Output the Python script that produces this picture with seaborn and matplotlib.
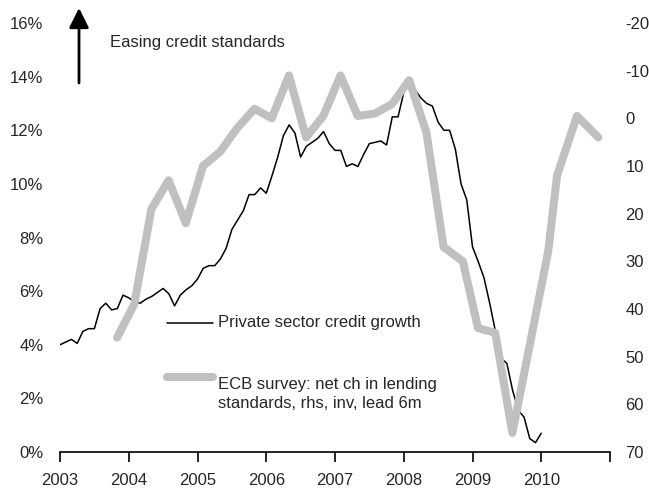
import numpy as np
import pandas as pd
import matplotlib
matplotlib.use("Agg")
import matplotlib.pyplot as plt
import seaborn as sns
from matplotlib.lines import Line2D

# Private sector credit growth, % y/y, monthly from Jan 2003
credit_start_year = 2003
credit_growth = [
    4.0, 4.1, 4.2, 4.05, 4.5, 4.6, 4.6, 5.35, 5.55, 5.3, 5.35, 5.85,      # 2003
    5.75, 5.6, 5.55, 5.7, 5.8, 5.95, 6.1, 5.9, 5.45, 5.85, 6.05, 6.2,     # 2004
    6.45, 6.85, 6.95, 6.95, 7.2, 7.6, 8.3, 8.65, 9.0, 9.6, 9.6, 9.85,     # 2005
    9.65, 10.3, 11.0, 11.8, 12.2, 11.9, 11.0, 11.4, 11.55, 11.7, 11.95, 11.5,  # 2006
    11.25, 11.25, 10.65, 10.75, 10.65, 11.1, 11.5, 11.55, 11.6, 11.45, 12.5, 12.5,  # 2007
    13.4, 13.9, 13.5, 13.2, 13.0, 12.9, 12.3, 12.0, 12.0, 11.3, 10.0, 9.4,  # 2008
    7.65, 7.1, 6.5, 5.55, 4.5, 3.5, 3.3, 2.3, 1.55, 1.3, 0.5, 0.35,       # 2009
    0.7,                                                                   # 2010
]

# ECB bank lending survey: net change in credit standards, led 6 months
survey_dates = [
    2003.83, 2004.08, 2004.33, 2004.58, 2004.83, 2005.08, 2005.33, 2005.58,
    2005.83, 2006.08, 2006.33, 2006.58, 2006.83, 2007.08, 2007.33, 2007.58,
    2007.83, 2008.08, 2008.33, 2008.58, 2008.86, 2009.08, 2009.33, 2009.58,
    2010.10, 2010.23, 2010.52, 2010.83,
]
survey_net = [
    46, 39, 19, 13, 22, 10, 7, 2,
    -2, 0, -9, 4, -0.5, -9, -0.5, -1,
    -3, -8, 3, 27, 30, 44, 45, 66,
    28, 12, -0.5, 4,
]

year_ticks = list(range(2003, 2012))
year_labels = [str(y) for y in range(2003, 2011)] + [""]
left_ticks = [0, 2, 4, 6, 8, 10, 12, 14, 16]
right_ticks = [-20, -10, 0, 10, 20, 30, 40, 50, 60, 70]

credit_label = "Private sector credit growth"
survey_label = "ECB survey: net ch in lending\nstandards, rhs, inv, lead 6m"
arrow_label = "Easing credit standards"

sns.set_style("white")
plt.rcParams["font.family"] = ["Liberation Sans", "DejaVu Sans"]
plt.rcParams["font.size"] = 12

W, H = 649, 493
fig = plt.figure(figsize=(W / 100, H / 100), dpi=100)
ax = fig.add_axes([60 / W, 41 / H, 550 / W, 429 / H])
ax2 = ax.twinx()

credit = pd.DataFrame({
    "date": credit_start_year + np.arange(len(credit_growth)) / 12.0,
    "growth": credit_growth,
})
survey = pd.DataFrame({"date": survey_dates, "net": survey_net})

grey = "#C0C0C0"
sns.lineplot(data=credit, x="date", y="growth", ax=ax, color="black",
             linewidth=1.1, sort=False)
sns.lineplot(data=survey, x="date", y="net", ax=ax2, color=grey,
             linewidth=5.8, sort=False, solid_capstyle="round",
             solid_joinstyle="round")

# Left axis: credit growth
ax.set_xlim(2003, 2011)
ax.set_ylim(0, 16)
ax.set_xticks(year_ticks)
ax.set_xticklabels(year_labels)
ax.set_yticks(left_ticks)
ax.set_yticklabels([f"{t}%" for t in left_ticks])
ax.set_xlabel("")
ax.set_ylabel("")
ax.tick_params(axis="x", bottom=True, direction="out", length=7, width=1.2,
               color="black", pad=8, labelsize=12)
ax.tick_params(axis="y", left=False, length=0, pad=12, labelsize=12)
for side in ["top", "left", "right"]:
    ax.spines[side].set_visible(False)
ax.spines["bottom"].set_color("black")
ax.spines["bottom"].set_linewidth(1.2)

# Right axis: survey balance, inverted
ax2.set_ylim(70, -20)
ax2.set_yticks(right_ticks)
ax2.set_yticklabels([str(t) for t in right_ticks])
ax2.set_ylabel("")
ax2.tick_params(axis="y", right=False, length=0, pad=11, labelsize=12)
for side in ["top", "left", "right", "bottom"]:
    ax2.spines[side].set_visible(False)

# Direction arrow and caption
fig.patches.append(matplotlib.patches.FancyArrowPatch(
    (79 / W, 1 - 83 / H), (79 / W, 1 - 8 / H), transform=fig.transFigure,
    arrowstyle="-|>,head_length=1.2,head_width=0.6", mutation_scale=10,
    color="black", linewidth=2.0, shrinkA=0, shrinkB=0))
fig.text(110 / W, 1 - 42 / H, arrow_label, ha="left", va="center", fontsize=12)

# Legend drawn by hand
fig.add_artist(Line2D([167 / W, 213 / W], [1 - 323 / H] * 2,
                      transform=fig.transFigure, color="black", linewidth=1.1))
fig.text(218 / W, 1 - 323 / H, credit_label, ha="left", va="center", fontsize=12)
fig.add_artist(Line2D([167 / W, 213 / W], [1 - 377 / H] * 2,
                      transform=fig.transFigure, color=grey, linewidth=5.8,
                      solid_capstyle="round"))
fig.text(218 / W, 1 - 394 / H, survey_label, ha="left", va="center",
         fontsize=12, linespacing=1.3)

fig.savefig("out.png", dpi=100)
